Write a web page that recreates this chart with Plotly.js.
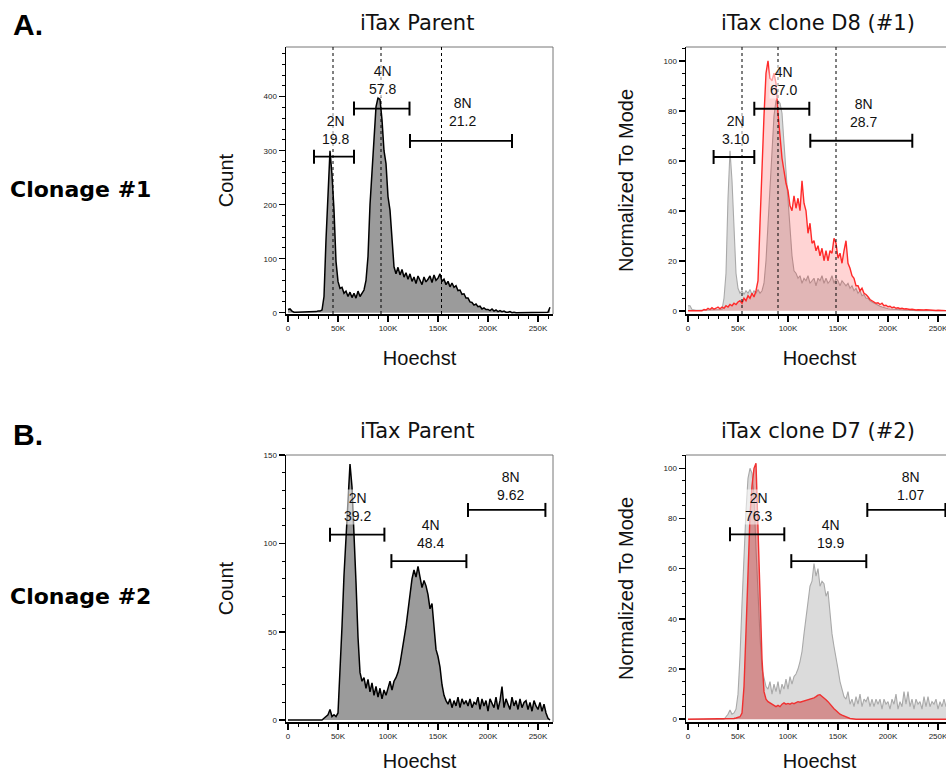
<!DOCTYPE html>
<html><head><meta charset="utf-8">
<script src="https://cdn.plot.ly/plotly-3.0.1.min.js"></script>
<style>html,body{margin:0;padding:0;overflow:hidden;background:#fff}#chart{width:960px;height:772px}</style>
</head><body><div id="chart"></div>
<script>
// ---------- DATA ----------
// Hoechst bin centres (thousands)
const hoechstK = [0,2,4,6,8,10,12,14,16,18,20,22,24,26,28,30,32,34,36,38,40,42,44,46,48,50,52,54,56,58,60,62,64,66,68,70,72,74,76,78,80,82,84,86,88,90,92,94,96,98,100,102,104,106,108,110,112,114,116,118,120,122,124,126,128,130,132,134,136,138,140,142,144,146,148,150,152,154,156,158,160,162,164,166,168,170,172,174,176,178,180,182,184,186,188,190,192,194,196,198,200,202,204,206,208,210,212,214,216,218,220,222,224,226,228,230,232,234,236,238,240,242,244,246,248,250,252,254,256,258,260,262];

// A: Clonage #1
const a1ParentCount = [
 6,7,3,1,1,1,1,2,1,1,
 2,1,2,1,2,3,3,5,30,135,
 227,300,255,190,95,58,45,47,36,40,
 30,38,28,36,27,40,30,35,42,60,
 104,200,265,330,381,398,395,357,300,276,
 215,190,130,85,72,84,70,80,66,74,
 62,72,58,66,54,68,60,52,66,57,
 62,68,56,70,60,64,72,58,62,52,
 58,48,55,47,50,41,42,34,35,27,
 27,20,19,14,16,11,12,7,9,6,
 6,4,7,3,5,2,4,2,3,1,
 1,2,0,1,0,0,1,0,0,0,
 0,1,0,0,0,0,1,0,0,0,
 1,10];
const a2ParentNorm = [
 2,2,0.5,0.2,0.2,0.2,0.2,0.2,0.2,0.2,
 0.2,0.2,0.2,0.2,0.3,0.3,0.3,0.5,5,15,
 45,64,52,30,15,9,7,8,6.5,8,
 7,8.5,6.5,8,7,8.5,7,8,11,20,
 34,50,66,78,84,84,83,79,67,55,
 46,33,22,16,15,13,14,11,13,12,
 14,11,12,13,10,13,12,14,11,13,
 11,12,14,11,13,12,10,12,11,10,
 11,9,10,8,9,7,8,6,6.5,5,
 5,4,3.5,3,2.5,2,1.8,1.5,1.2,1,
 0.8,0.7,0.6,0.5,0.4,0.3,0.3,0.2,0.2,0.2,
 0.2,0.1,0.1,0.1,0.1,0,0,0,0,0,
 0,0,0,0,0,0,0,0,0,0,
 0,0];
const a2CloneNorm = [
 0,0,0,0,0,0,0,0,0.5,0.3,
 1,0.5,1.2,0.6,1,1.5,0.8,1.5,1,2,
 1.5,2.5,2,3,2.5,3.5,4,3,5,4,
 6,5,7,5.5,8,12,35,60,78,95,
 100,93,92,95,91,79,70,61,56,51,
 48,42,40,46,41,45,40,52,43,40,
 31,35,27,28,24,26,22,25,20,24,
 20,24,23,29,27,21,23,19,24,28,
 19,17,14,13,10,10,8,9,7,6.5,
 5.6,4.5,4,3.5,3,3.2,2.5,3,2,2.2,
 1.6,1.8,1.2,1.5,1,1.2,0.8,1,0.7,0.8,
 0.6,0.5,0.6,0.4,0.3,0.4,0.3,0.2,0.3,0.4,
 0.3,0.2,0.3,0.2,0.1,0.2,0.1,0,0,0,
 0,0];

// B: Clonage #2
const b1ParentCount = [
 0,0,0,0,0,0,0,0,0,0,
 0,0,0,0,0,0,0,0,1,2,
 3,6,2,3,2,4,26,53,82,104,
 124,145,132,108,78,47,27,22,24,18,
 23,16,21,14,19,13,18,12,17,14,
 18,22,17,22,24,27,32,38,46,53,
 62,70,80,85,81,87,80,75,79,76,
 71,63,66,50,40,36,30,20,14,11,
 9,12,7,11,8,13,7,12,9,11,
 8,12,7,10,9,13,6,12,8,11,
 5,12,9,7,13,6,11,19,7,12,
 9,6,13,8,11,6,12,7,10,11,
 6,10,5,11,8,6,10,5,9,4,
 1,0];
const b2ParentNorm = [
 0,0,0,0,0,0,0,0,0,0,
 0,0,0,0,0,0,0,0,0,1,
 2,3.7,2,2.5,4,10,25,46,67,83,
 96,100,98,89,68,48,33,20,16,13,
 12,15,10,14,11,15,10,14,12,16,
 12,17,14,17,18,20,23,27,34,41,
 47,53,55,62,57,60,53,55,54,49,
 51,42,34,29,25,20,15,12,9,8,
 11,6,8,5,9,6,10,5,8,7,
 9,5,8,5,8,6,8,4,8,6,
 7,4,8,6,10,4,7,5,11,6,
 11,5,8,4,8,6,7,4,9,5,
 9,5,7,6,8,4,7,5,8,5,
 6,4];
const b2CloneNorm = [
 0,0,0,0,0,0,0,0,0,0,
 0,0,0,0,0,0,0,0,0,0,
 0,0,0,0.3,0.5,0.8,1,2.5,13,35,
 63,81,93,100,102,76,47,24,11,8,
 7,6.5,6,5.5,5,5.5,5,6,6.5,6,
 6.3,6,6.5,6.2,6.5,7,6.8,7,7.3,7.5,
 7.7,8,8.2,8.5,9,9.6,9.8,9.2,8.5,7.8,
 7,6,5,4.2,3.5,2.6,2,1.6,1.2,0.9,
 0.5,0.3,0.2,0,0,0,0,0,0,0,
 0,0,0,0,0,0,0,0,0,0,
 0,0,0,0,0,0,0,0,0,0,
 0,0,0,0,0,0,0,0,0,0,
 0,0,0,0,0,0,0,0,0,0,
 0,0];

// gates
const gateNames = ['2N','4N','8N'];
const a1Pct = ['19.8','57.8','21.2'];
const a2Pct = ['3.10','67.0','28.7'];
const b1Pct = ['39.2','48.4','9.62'];
const b2Pct = ['76.3','19.9','1.07'];
const a1GateLo = [26,66,122],     a1GateHi = [66,121.5,224];
const a2GateLo = [25.6,66.3,122.3], a2GateHi = [66.3,121.3,224.3];
const b1GateLo = [42,103.4,180],  b1GateHi = [96.4,178.4,257.4];
const b2GateLo = [42,103.3,179.3], b2GateHi = [96.3,178.3,257.4];
// peak marker lines (thousands)
const a1Markers = [45,93,153.5];
const a2Markers = [54,90,148];

const xTickVals = [0,50,100,150,200,250];
const xTickText = ['0','50K','100K','150K','200K','250K'];

// ---------- LAYOUT / STYLE ----------
const W = 960, H = 772;
const domX = (a,b)=>[a/W,b/W];
const domY = (top,bot)=>[1-bot/H,1-top/H];
const ARIAL = 'Liberation Sans, Arial, sans-serif';
const DEJA = 'DejaVu Sans, sans-serif';

const greyDark = {line:{color:'#000',width:1.5}, fillcolor:'#9b9b9b'};
const greyLight = {line:{color:'#a9a9a9',width:1.1}, fillcolor:'rgba(190,190,190,0.55)'};
const redTop = {line:{color:'#ff2a2a',width:1.4}, fillcolor:'rgba(255,0,0,0.17)'};
const redBot = {line:{color:'#f03030',width:1.4}, fillcolor:'rgba(200,40,40,0.42)'};

const panels = [
 {n:'', xd:domX(286,553), yd:domY(47,314), yr:[-2.4,492], dt:100, mdt:20, ytitle:'Count',
  series:[[a1ParentCount,greyDark]], pct:a1Pct, lo:a1GateLo, hi:a1GateHi,
  gateY:[289,378,318], labX:[47.4,94.7,174.7], labY:[339,430,371], markers:a1Markers},
 {n:'2', xd:domX(686,953), yd:domY(47,314), yr:[-1.3,105.5], dt:20, mdt:5, ytitle:'Normalized To Mode',
  series:[[a2ParentNorm,greyLight],[a2CloneNorm,redTop]], pct:a2Pct, lo:a2GateLo, hi:a2GateHi,
  gateY:[61.5,80.8,68], labX:[47,95,175], labY:[72.5,92,79.3], markers:a2Markers},
 {n:'3', xd:domX(286,553), yd:domY(455,722), yr:[-1.1,150.1], dt:50, mdt:10, ytitle:'Count',
  series:[[b1ParentCount,greyDark]], pct:b1Pct, lo:b1GateLo, hi:b1GateHi,
  gateY:[105,90,119], labX:[69.3,142,222.7], labY:[120.6,105.2,132.3], markers:[]},
 {n:'4', xd:domX(686,953), yd:domY(455,722), yr:[-1.1,105.3], dt:20, mdt:5, ytitle:'Normalized To Mode',
  series:[[b2ParentNorm,greyLight],[b2CloneNorm,redBot]], pct:b2Pct, lo:b2GateLo, hi:b2GateHi,
  gateY:[73.7,63,83.4], labX:[70.6,142.3,222.3], labY:[84.6,73.7,92.8], markers:[]}
];

const traces = [], shapes = [], annotations = [];
const layout = {width:W, height:H, margin:{l:0,r:0,t:0,b:0}, paper_bgcolor:'#fff', plot_bgcolor:'#fff',
  showlegend:false, font:{family:ARIAL, color:'#111'}};

panels.forEach(p=>{
  const xa='x'+p.n, ya='y'+p.n;
  const tickFont = {family:ARIAL, size:8, color:'#222'};
  layout['xaxis'+p.n] = {domain:p.xd, anchor:ya, range:[-2,265], showgrid:false, zeroline:false,
    showline:true, linecolor:'#000', linewidth:1.5, ticks:'outside', ticklen:6, tickwidth:1.5, tickcolor:'#000',
    tickmode:'array', tickvals:xTickVals, ticktext:xTickText, tickfont:tickFont, ticklabeloverflow:'allow',
    minor:{tickmode:'linear', tick0:0, dtick:10, ticks:'outside', ticklen:3, tickwidth:1, tickcolor:'#000'},
    title:{text:'Hoechst', font:{family:ARIAL, size:20, color:'#111'}, standoff:19}, automargin:false, fixedrange:true};
  layout['yaxis'+p.n] = {domain:p.yd, anchor:xa, range:p.yr, showgrid:false, zeroline:false,
    showline:true, linecolor:'#000', linewidth:1.5, ticks:'outside', ticklen:6, tickwidth:1.5, tickcolor:'#000',
    tick0:0, dtick:p.dt, tickfont:tickFont,
    minor:{tick0:0, dtick:p.mdt, ticks:'outside', ticklen:3, tickwidth:1, tickcolor:'#000'},
    title:{text:p.ytitle, font:{family:ARIAL, size:20, color:'#111'}, standoff:24}, automargin:false, fixedrange:true};

  p.series.forEach(([vals,st])=>{
    traces.push({type:'scatter', mode:'lines', x:hoechstK, y:vals, xaxis:xa, yaxis:ya,
      fill:'tozeroy', fillcolor:st.fillcolor, line:Object.assign({shape:'linear'},st.line), hoverinfo:'skip'});
  });
  // frame (top/right)
  const xr = (p.n?'x'+p.n:'x')+' domain', yr = (p.n?'y'+p.n:'y')+' domain';
  shapes.push({type:'line', xref:xr, yref:yr, x0:0, x1:1, y0:1, y1:1, line:{color:'#777',width:1}});
  shapes.push({type:'line', xref:xr, yref:yr, x0:1, x1:1, y0:0, y1:1, line:{color:'#777',width:1}});
  p.markers.forEach(v=>{
    shapes.push({type:'line', xref:xa, yref:yr, x0:v, x1:v, y0:0, y1:1, layer:'above', line:{color:'#000',width:1,dash:'dot'}});
  });
  gateNames.forEach((g,i)=>{
    traces.push({type:'scatter', mode:'lines+markers', x:[p.lo[i],p.hi[i]], y:[p.gateY[i],p.gateY[i]],
      xaxis:xa, yaxis:ya, line:{color:'#000',width:1.8},
      marker:{symbol:'line-ns', size:10, color:'#000', line:{color:'#000',width:2}}, hoverinfo:'skip', cliponaxis:false});
    annotations.push({xref:xa, yref:ya, x:p.labX[i], y:p.labY[i], text:g+'<br>'+p.pct[i], showarrow:false,
      font:{family:ARIAL, size:14, color:'#111'}, bgcolor:'rgba(255,255,255,0.55)', borderpad:0, align:'center'});
  });
});

// panel titles & row labels
const titles = [
  ['iTax Parent',417,23], ['iTax clone D8 (#1)',818,23],
  ['iTax Parent',417,431], ['iTax clone D7 (#2)',818,431]
];
titles.forEach(([t,x,y])=>annotations.push({xref:'paper', yref:'paper', x:x/W, y:1-y/H, xanchor:'center', yanchor:'middle',
  text:t, showarrow:false, font:{family:DEJA, size:21, color:'#111'}}));
[['A.',24],['B.',434]].forEach(([t,y])=>annotations.push({xref:'paper', yref:'paper', x:11/W, y:1-y/H, xanchor:'left', yanchor:'middle',
  text:'<b>'+t+'</b>', showarrow:false, font:{family:ARIAL, size:30, color:'#000'}}));
[['Clonage #1',189],['Clonage #2',596]].forEach(([t,y])=>annotations.push({xref:'paper', yref:'paper', x:8/W, y:1-y/H, xanchor:'left', yanchor:'middle',
  text:'<b>'+t+'</b>', showarrow:false, font:{family:DEJA, size:22, color:'#000'}}));

layout.shapes = shapes;
layout.annotations = annotations;
Plotly.newPlot('chart', traces, layout, {staticPlot:true, displayModeBar:false});
</script>
</body></html>
